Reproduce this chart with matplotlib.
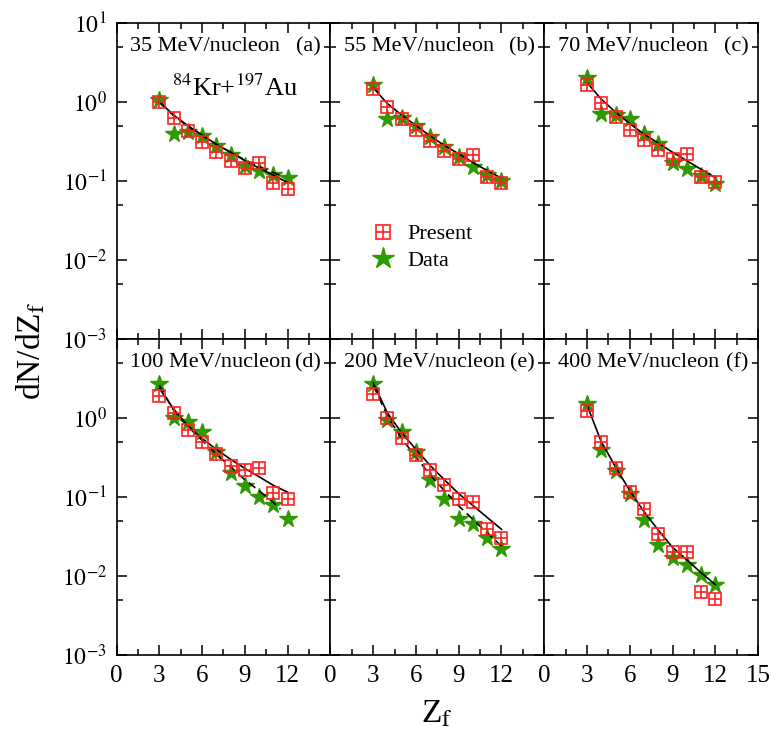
import numpy as np
import matplotlib
matplotlib.use('Agg')
import matplotlib.pyplot as plt
from matplotlib.lines import Line2D

plt.rcParams['font.family'] = ['Liberation Serif', 'DejaVu Serif']
plt.rcParams['mathtext.fontset'] = 'stix'

# fragment charge
z = [3, 4, 5, 6, 7, 8, 9, 10, 11, 12]

energies = ['35', '55', '70', '100', '200', '400']
letters = ['(a)', '(b)', '(c)', '(d)', '(e)', '(f)']

# Present (model) yields
present_a = [1.0, 0.62, 0.43, 0.31, 0.23, 0.18, 0.145, 0.17, 0.095, 0.078]
present_b = [1.44, 0.86, 0.61, 0.44, 0.32, 0.24, 0.19, 0.215, 0.112, 0.093]
present_c = [1.63, 0.97, 0.64, 0.44, 0.33, 0.246, 0.19, 0.22, 0.112, 0.098]
present_d = [1.88, 1.14, 0.71, 0.50, 0.355, 0.25, 0.22, 0.23, 0.112, 0.093]
present_e = [2.0, 1.0, 0.565, 0.34, 0.22, 0.14, 0.095, 0.087, 0.039, 0.030]
present_f = [1.23, 0.5, 0.23, 0.114, 0.071, 0.034, 0.020, 0.020, 0.0062, 0.0051]

# experimental data
data_a = [1.05, 0.39, 0.41, 0.375, 0.28, 0.21, 0.155, 0.134, 0.12, 0.11]
data_b = [1.63, 0.6, 0.62, 0.50, 0.36, 0.27, 0.20, 0.15, 0.12, 0.10]
data_c = [2.0, 0.71, 0.68, 0.61, 0.39, 0.29, 0.166, 0.14, 0.116, 0.09]
data_d = [2.72, 1.0, 0.9, 0.67, 0.37, 0.20, 0.136, 0.10, 0.079, 0.053]
data_e = [2.72, 0.94, 0.665, 0.37, 0.163, 0.093, 0.053, 0.046, 0.030, 0.022]
data_f = [1.49, 0.39, 0.213, 0.11, 0.051, 0.025, 0.017, 0.0137, 0.0102, 0.0076]

# fit to present (solid)
fit_a = [1.0, 0.68, 0.5, 0.38, 0.29, 0.23, 0.18, 0.145, 0.118, 0.095]
fit_b = [1.51, 0.95, 0.68, 0.5, 0.37, 0.28, 0.22, 0.17, 0.135, 0.108]
fit_c = [1.75, 1.08, 0.74, 0.53, 0.39, 0.3, 0.23, 0.18, 0.14, 0.11]
fit_d = [2.36, 1.3, 0.8, 0.55, 0.4, 0.3, 0.23, 0.18, 0.14, 0.115]
fit_e = [2.8, 1.15, 0.65, 0.4, 0.25, 0.165, 0.11, 0.078, 0.055, 0.039]
fit_f = [1.45, 0.5, 0.24, 0.12, 0.065, 0.038, 0.023, 0.016, 0.011, 0.0078]

# fit to data (dashed), only where visible
zd_a = [3, 4, 5, 6, 7, 8, 9, 10, 11, 11.5]
dfit_a = [1.0, 0.67, 0.49, 0.375, 0.29, 0.23, 0.185, 0.152, 0.127, 0.117]
zd_d = [3, 4, 5, 6, 7, 8, 9, 10, 11, 11.5]
dfit_d = [2.6, 1.25, 0.78, 0.52, 0.35, 0.24, 0.165, 0.12, 0.085, 0.07]
zd_e = [3, 4, 5, 6, 7, 8, 9, 10, 11, 12]
dfit_e = [2.6, 1.05, 0.55, 0.32, 0.19, 0.12, 0.077, 0.052, 0.035, 0.024]

presents = [present_a, present_b, present_c, present_d, present_e, present_f]
datas = [data_a, data_b, data_c, data_d, data_e, data_f]
fits = [fit_a, fit_b, fit_c, fit_d, fit_e, fit_f]
dashed = {0: (zd_a, dfit_a), 3: (zd_d, dfit_d), 4: (zd_e, dfit_e)}

red = '#ff2020'
green = '#2f9a00'

fig, axes = plt.subplots(2, 3, figsize=(7.72, 7.36), dpi=100, sharex=True, sharey=True)
fig.subplots_adjust(left=0.151, right=0.982, top=0.969, bottom=0.110, wspace=0, hspace=0)

for i, ax in enumerate(axes.flat):
    ax.plot(z, fits[i], color='black', lw=1.2, zorder=3)
    if i in dashed:
        ax.plot(dashed[i][0], dashed[i][1], color='black', lw=1.2, ls=(0, (5, 3)), zorder=3)
    ax.plot(z, datas[i], ls='none', marker='*', ms=13, color=green, mec=green, zorder=2)
    ax.plot(z, presents[i], ls='none', marker='s', ms=8.5, mfc='none', mec=red, mew=1.2, zorder=4)
    ax.plot(z, presents[i], ls='none', marker='+', ms=8.5, color=red, mec=red, mew=1.2, zorder=4)

    ax.set_yscale('log')
    ax.set_ylim(1e-3, 1e1)
    ax.set_xlim(0, 15)
    ax.set_xticks([0, 3, 6, 9, 12, 15])
    ax.set_xticks(np.arange(0, 15.1, 1.5), minor=True)
    ax.set_yticks([1e-3, 1e-2, 1e-1, 1e0, 1e1])
    ax.set_yticks([5e-3, 5e-2, 5e-1, 5e0], minor=True)
    ax.yaxis.set_minor_formatter(matplotlib.ticker.NullFormatter())
    ax.tick_params(which='both', direction='in', top=True, right=True, width=1.1)
    ax.tick_params(axis='x', labelsize=18)
    ax.tick_params(axis='y', labelsize=17)
    ax.tick_params(which='major', length=7, pad=7)
    ax.tick_params(which='minor', length=4)
    for s in ax.spines.values():
        s.set_linewidth(1.2)

    ax.text(0.065, 0.925, energies[i] + ' MeV/nucleon', transform=ax.transAxes,
            fontsize=16, ha='left', va='center')
    ax.text(0.955, 0.925, letters[i], transform=ax.transAxes,
            fontsize=16, ha='right', va='center')

ylabels_top = [r'$10^{-3}$', r'$10^{-2}$', r'$10^{-1}$', r'$10^{0}$', r'$10^{1}$']
axes[0, 0].set_yticklabels(ylabels_top)
axes[1, 0].set_yticklabels(ylabels_top)
for lab in axes[1, 0].get_yticklabels()[-1:]:
    lab.set_visible(False)
for ax in axes[1, :2]:
    ax.get_xticklabels()[-1].set_visible(False)

axes[0, 0].text(0.555, 0.795, r'$^{84}$Kr+$^{197}$Au', transform=axes[0, 0].transAxes,
                fontsize=19, ha='center', va='center')

sq = Line2D([], [], ls='none', marker='s', ms=9.5, mfc='none', mec=red, mew=1.2)
pl = Line2D([], [], ls='none', marker='+', ms=9.5, color=red, mew=1.2)
st = Line2D([], [], ls='none', marker='*', ms=16, color=green)
axes[0, 1].legend([(sq, pl), st], ['Present', 'Data'], loc='center left',
                  bbox_to_anchor=(0.09, 0.29), frameon=False, fontsize=16,
                  handlelength=1.2, handletextpad=0.5, labelspacing=0.25)

fig.text(0.040, 0.524, r'dN/dZ$_{\mathrm{f}}$', rotation=90, fontsize=24, ha='center', va='center')
fig.text(0.566, 0.03, r'Z$_{\mathrm{f}}$', fontsize=24, ha='center', va='center')

fig.savefig('out.png', dpi=100)
